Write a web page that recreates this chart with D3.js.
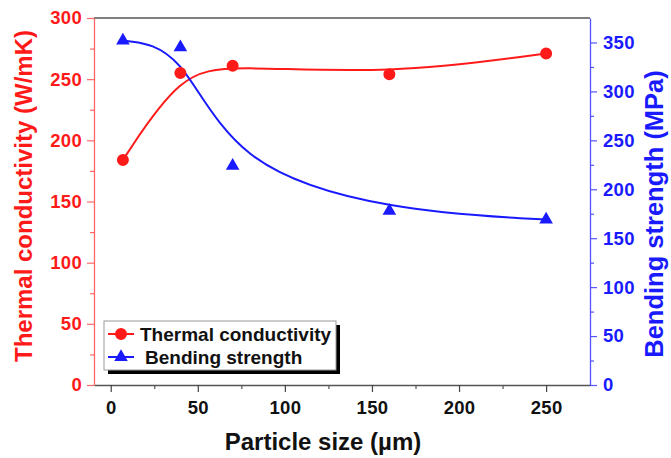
<!DOCTYPE html>
<html>
<head>
<meta charset="utf-8">
<script src="https://cdn.jsdelivr.net/npm/d3@7"></script>
<style>
  html, body { margin: 0; padding: 0; background: #fff; }
  svg { display: block; font-family: "Liberation Sans", Arial, sans-serif; font-weight: bold; }
</style>
</head>
<body>
<svg id="chart" width="671" height="458"></svg>
<script>
const particleSize = [7, 40, 70, 160, 250];
const thermalConductivity = [184, 255, 261, 254, 271];
const bendingStrength = [352, 345, 224, 178, 169];
const xTicks = [0, 50, 100, 150, 200, 250];
const xMinorTicks = [25, 75, 125, 175, 225];
const yLeftTicks = [0, 50, 100, 150, 200, 250, 300];
const yLeftMinor = [25, 75, 125, 175, 225, 275];
const yRightTicks = [0, 50, 100, 150, 200, 250, 300, 350];
const yRightMinor = [25, 75, 125, 175, 225, 275, 325];
const seriesNames = ["Thermal conductivity", "Bending strength"];

const RED = "#ff1a1a", BLUE = "#1a1aff";
const svg = d3.select("#chart");
const L = 94, R = 590, T = 18, B = 385;

const x = d3.scaleLinear().domain([-9.6, 275.2]).range([L, R]);
const yL = d3.scaleLinear().domain([0, 300]).range([B, T]);
const yR = d3.scaleLinear().domain([0, 375]).range([B, T]);

// frame top
svg.append("line").attr("x1", L).attr("x2", R).attr("y1", T).attr("y2", T)
  .attr("stroke", "#555").attr("stroke-width", 1.5);

function styleAxis(g, color) {
  g.select(".domain").attr("stroke", color).attr("stroke-width", 1.3);
  g.selectAll(".tick line").attr("stroke", color).attr("stroke-width", 1.2);
  g.selectAll(".tick text").attr("fill", color).attr("font-size", 18.5)
    .attr("letter-spacing", 0.3)
    .attr("font-family", "Liberation Sans, Arial, sans-serif").attr("font-weight", "bold");
}

// bottom axis
const gxMinor = svg.append("g").attr("transform", `translate(0,${B})`)
  .call(d3.axisBottom(x).tickValues(xMinorTicks).tickSize(4).tickFormat(""));
styleAxis(gxMinor, "#555");
gxMinor.select(".domain").remove();
const gx = svg.append("g").attr("transform", `translate(0,${B})`)
  .call(d3.axisBottom(x).tickValues(xTicks).tickSize(7).tickPadding(9).tickSizeOuter(0));
styleAxis(gx, "#444");
gx.selectAll(".tick text").attr("fill", "#111");
gx.select(".domain").attr("stroke", "#555").attr("stroke-width", 1.5);

// left axis
const gyLMinor = svg.append("g").attr("transform", `translate(${L},0)`)
  .call(d3.axisLeft(yL).tickValues(yLeftMinor).tickSize(4).tickFormat(""));
styleAxis(gyLMinor, "#ff6666");
gyLMinor.select(".domain").remove();
const gyL = svg.append("g").attr("transform", `translate(${L},0)`)
  .call(d3.axisLeft(yL).tickValues(yLeftTicks).tickSize(7).tickPadding(5).tickSizeOuter(0));
styleAxis(gyL, "#ff6666");
gyL.selectAll(".tick text").attr("fill", RED);

// right axis
const gyRMinor = svg.append("g").attr("transform", `translate(${R},0)`)
  .call(d3.axisRight(yR).tickValues(yRightMinor).tickSize(4).tickFormat(""));
styleAxis(gyRMinor, "#5555ff");
gyRMinor.select(".domain").remove();
const gyR = svg.append("g").attr("transform", `translate(${R},0)`)
  .call(d3.axisRight(yR).tickValues(yRightTicks).tickSize(7).tickPadding(6).tickSizeOuter(0));
styleAxis(gyR, "#5555ff");
gyR.selectAll(".tick text").attr("fill", BLUE);

// axis titles
svg.append("text").attr("transform", "translate(32,196) rotate(-90)")
  .attr("text-anchor", "middle").attr("font-size", 24).attr("fill", RED)
  .text("Thermal conductivity (W/mK)");
svg.append("text").attr("transform", "translate(663,214) rotate(-90)")
  .attr("text-anchor", "middle").attr("font-size", 25.5).attr("fill", BLUE)
  .text("Bending strength (MPa)");
svg.append("text").attr("x", 323).attr("y", 450)
  .attr("text-anchor", "middle").attr("font-size", 24).attr("fill", "#111")
  .text("Particle size (µm)");

// curves
const tcData = particleSize.map((d, i) => [d, thermalConductivity[i]]);
const bsData = particleSize.map((d, i) => [d, bendingStrength[i]]);

svg.append("path").datum(tcData)
  .attr("d", d3.line().x(d => x(d[0])).y(d => yL(d[1])).curve(d3.curveBasis))
  .attr("fill", "none").attr("stroke", RED).attr("stroke-width", 2);
svg.append("path").datum(bsData)
  .attr("d", d3.line().x(d => x(d[0])).y(d => yR(d[1])).curve(d3.curveBasis))
  .attr("fill", "none").attr("stroke", BLUE).attr("stroke-width", 2);

const circ = d3.symbol().type(d3.symbolCircle).size(113);
const tri = d3.symbol().type(d3.symbolTriangle).size(80);

svg.selectAll(".tc").data(tcData).join("path")
  .attr("d", circ).attr("transform", d => `translate(${x(d[0])},${yL(d[1])})`)
  .attr("fill", RED);
svg.selectAll(".bs").data(bsData).join("path")
  .attr("d", tri).attr("transform", d => `translate(${x(d[0])},${yR(d[1])})`)
  .attr("fill", BLUE);

// legend
const lg = svg.append("g");
lg.append("rect").attr("x", 108).attr("y", 325).attr("width", 232).attr("height", 49).attr("fill", "#000");
lg.append("rect").attr("x", 104).attr("y", 321).attr("width", 232).attr("height", 49)
  .attr("fill", "#fff").attr("stroke", "#999").attr("stroke-width", 1);
const legendRows = [
  {name: seriesNames[0], color: RED, sym: circ, y: 334, tx: 140},
  {name: seriesNames[1], color: BLUE, sym: tri, y: 357, tx: 145}
];
legendRows.forEach(r => {
  lg.append("line").attr("x1", 108).attr("x2", 134).attr("y1", r.y).attr("y2", r.y)
    .attr("stroke", r.color).attr("stroke-width", 2);
  lg.append("path").attr("d", r.sym).attr("transform", `translate(121,${r.y})`).attr("fill", r.color);
  lg.append("text").attr("x", r.tx).attr("y", r.y + 7).attr("font-size", 19).attr("fill", "#111").text(r.name);
});
</script>
</body>
</html>
